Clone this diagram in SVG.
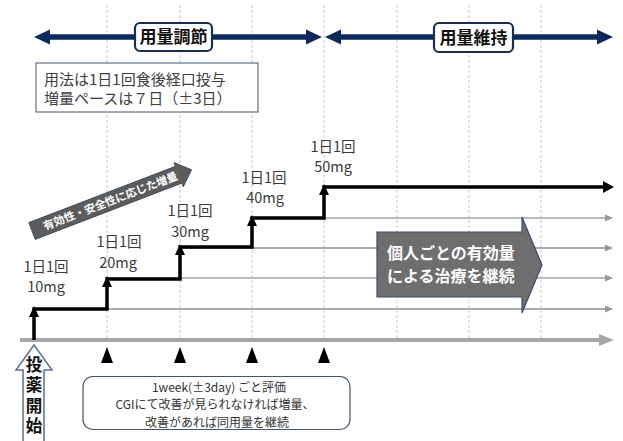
<svg xmlns="http://www.w3.org/2000/svg" width="623" height="441" viewBox="0 0 623 441">
<style>
text{font-family:"Noto Sans CJK JP","Noto Sans",sans-serif}
.grid{stroke:#c8c8c8;stroke-width:1;stroke-dasharray:3 2;fill:none}
.navy{stroke:#0e2a5c;stroke-width:5.5;fill:none}
.navyhead{fill:#0e2a5c}
.phase{fill:#fff;stroke:#1a2d55;stroke-width:2.2}
.phaset{font-size:17px;font-weight:bold;fill:#111;text-anchor:middle}
.lbl{font-size:14.5px;fill:#3a3a3a;text-anchor:middle}
.step{stroke:#000;stroke-width:3.5;fill:none;stroke-linejoin:miter}
.thin1{stroke:#a6a6a6;stroke-width:1.3;fill:none}
.thin2{stroke:#8f8f8f;stroke-width:1.3;fill:none}
.note{font-size:12px;fill:#333;text-anchor:middle}
</style>
<defs>
<marker id="ga" markerWidth="8" markerHeight="8" refX="7" refY="4" orient="auto" markerUnits="userSpaceOnUse"><path d="M0,0.5 L8,4 L0,7.5 Z" fill="#999"/></marker>
</defs>
<rect width="623" height="441" fill="#fff"/>
<g id="gridlines">
<line class="grid" x1="107" y1="5" x2="107" y2="340"/>
<line class="grid" x1="180" y1="5" x2="180" y2="340"/>
<line class="grid" x1="252" y1="5" x2="252" y2="340"/>
<line class="grid" x1="324" y1="5" x2="324" y2="340"/>
<line class="grid" x1="397" y1="5" x2="397" y2="340"/>
<line class="grid" x1="469" y1="5" x2="469" y2="340"/>
<line class="grid" x1="541" y1="5" x2="541" y2="340"/>
</g>
<g id="phase-arrows">
<line class="navy" x1="48" y1="37" x2="310" y2="37"/>
<polygon class="navyhead" points="34,37 50,29.5 50,44.5"/>
<polygon class="navyhead" points="322,37 306,29.5 306,44.5"/>
<line class="navy" x1="338" y1="37" x2="600" y2="37"/>
<polygon class="navyhead" points="325,37 341,29.5 341,44.5"/>
<polygon class="navyhead" points="613,37 597,29.5 597,44.5"/>
</g>
<g id="phase-adjust">
<rect class="phase" x="135" y="23" width="77" height="28" rx="5"/>
<text class="phaset" x="173.5" y="43">用量調節</text>
</g>
<g id="phase-maintain">
<rect class="phase" x="434" y="23" width="79" height="29" rx="5"/>
<text class="phaset" x="473.5" y="43.5">用量維持</text>
</g>
<g id="info">
<rect x="36" y="63" width="222" height="49" fill="#fff" stroke="#44546a" stroke-width="1"/>
<text x="44" y="85" font-size="15" fill="#404040">用法は1日1回食後経口投与</text>
<text x="44" y="104" font-size="15" fill="#404040">増量ペースは７日（±3日）</text>
</g>
<g id="connectors">
<line class="thin2" x1="34" y1="309" x2="612" y2="309" marker-end="url(#ga)"/>
<line class="thin1" x1="107" y1="278" x2="612" y2="278" marker-end="url(#ga)"/>
<line class="thin2" x1="180" y1="248" x2="612" y2="248" marker-end="url(#ga)"/>
<line class="thin1" x1="252" y1="218" x2="612" y2="218" marker-end="url(#ga)"/>
<line x1="20" y1="340" x2="602" y2="340" stroke="#a6a6a6" stroke-width="4"/>
<polygon points="599,334 614,340 599,346" fill="#a6a6a6"/>
<path class="step" d="M34,340 V309 H107 V279 H180 V247 H252 V218 H324 V187 H604"/>
<polygon points="603,181 614,187 603,193" fill="#000"/>
<polygon points="34,306 29,317 39,317" fill="#000"/>
<polygon points="107,276 102,287 112,287" fill="#000"/>
<polygon points="180,244 175,255 185,255" fill="#000"/>
<polygon points="252,215 247,226 257,226" fill="#000"/>
<polygon points="324,184 319,195 329,195" fill="#000"/>
</g>
<g id="dose10"><text class="lbl" x="46" y="272">1日1回</text><text class="lbl" x="46" y="292">10mg</text></g>
<g id="dose20"><text class="lbl" x="119" y="247">1日1回</text><text class="lbl" x="118" y="268">20mg</text></g>
<g id="dose30"><text class="lbl" x="190" y="216">1日1回</text><text class="lbl" x="190" y="237">30mg</text></g>
<g id="dose40"><text class="lbl" x="264" y="183">1日1回</text><text class="lbl" x="265" y="203">40mg</text></g>
<g id="dose50"><text class="lbl" x="333" y="152">1日1回</text><text class="lbl" x="333" y="172">50mg</text></g>
<g id="titration-arrow" transform="translate(32,231) rotate(-21)">
<polygon points="0,-9 157,-9 157,-13 171,0 157,13 157,9 0,9" fill="#5c5c5c" stroke="#3a4a60" stroke-width="0.8"/>
<text x="84" y="4" font-size="11" font-weight="bold" fill="#fff" text-anchor="middle">有効性・安全性に応じた増量</text>
</g>
<g id="maintain-arrow">
<polygon points="377,232 522,232 522,217 542,265 522,313 522,297 377,297" fill="#6e6e6e" stroke="#3b4d6b" stroke-width="1.2"/>
<text x="387" y="258.5" font-size="16" font-weight="bold" fill="#fff">個人ごとの有効量</text>
<text x="387" y="282" font-size="16" font-weight="bold" fill="#fff">による治療を継続</text>
</g>
<g id="eval-marks">
<polygon points="107,347 101,363 113,363" fill="#000"/>
<polygon points="180,347 174,363 186,363" fill="#000"/>
<polygon points="252,347 246,363 258,363" fill="#000"/>
<polygon points="324,347 318,363 330,363" fill="#000"/>
</g>
<g id="start">
<polygon points="34,345 52,370 44,370 44,445 23,445 23,370 16,370" fill="#fff" stroke="#5b6f8f" stroke-width="1.5"/>
<text x="34" y="356" font-size="16.5" font-weight="bold" fill="#111" writing-mode="vertical-rl" letter-spacing="4">投薬開始</text>
</g>
<g id="eval-note">
<rect x="83" y="376.5" width="267" height="53" rx="10" fill="#fff" stroke="#44546a" stroke-width="1.2"/>
<text class="note" x="219" y="391.5">1week(±3day) ごと評価</text>
<text class="note" x="215" y="409">CGIにて改善が見られなければ増量、</text>
<text class="note" x="217" y="426.5">改善があれば同用量を継続</text>
</g>
</svg>
